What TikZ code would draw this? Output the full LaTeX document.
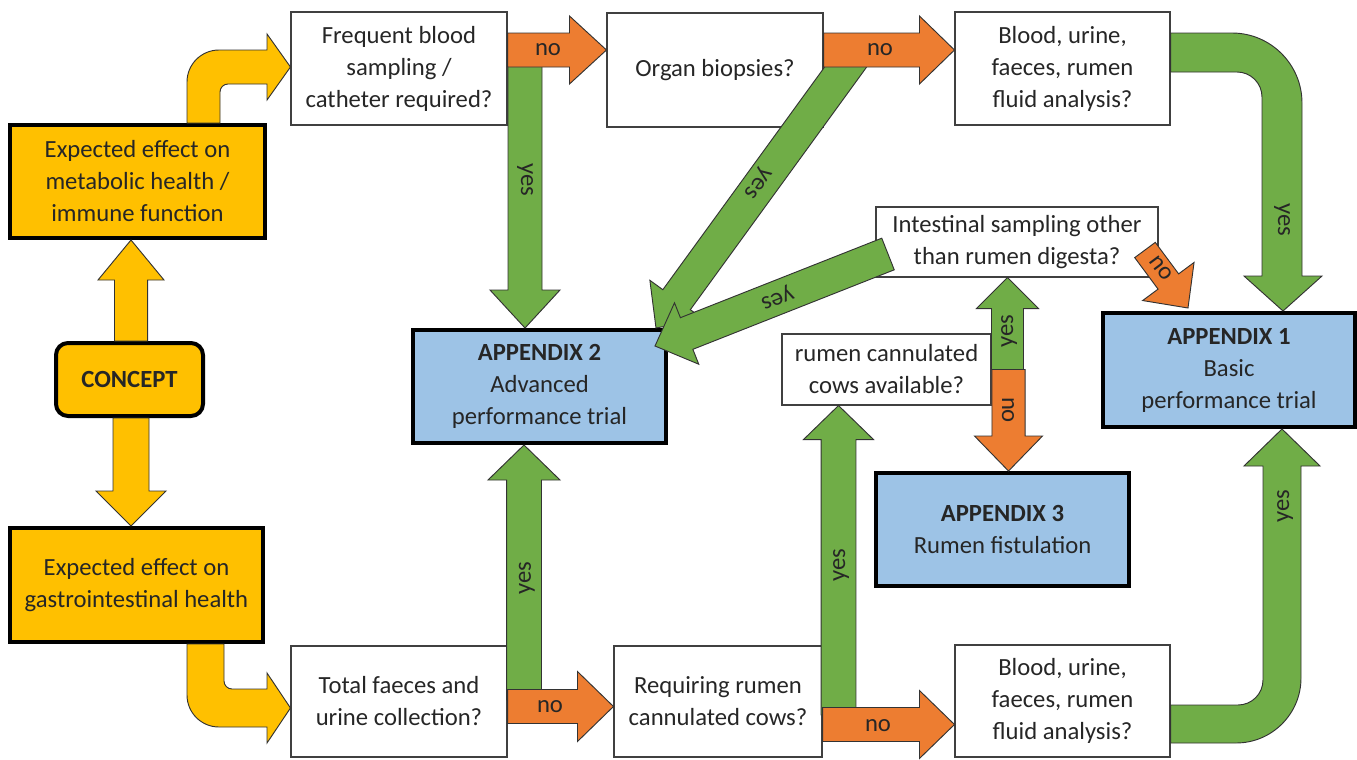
\documentclass[tikz,border=0pt]{standalone}
\usepackage{fontspec}
\setmainfont{Carlito}
\usetikzlibrary{calc}
\definecolor{cyel}{HTML}{FFC000}
\definecolor{cora}{HTML}{ED7D31}
\definecolor{cgre}{HTML}{70AD47}
\definecolor{cblu}{HTML}{9DC3E6}
\definecolor{ctxt}{HTML}{262626}
% #1 style, #2 tail, #3 tip, #4 shaft half width, #5 head half width, #6 head length
\newcommand\blockarrow[6]{%
  \coordinate (hb) at ($(#3)!#6!(#2)$);
  \filldraw[#1] ($(#2)!#4!90:(#3)$) -- ($(hb)!#4!-90:(#2)$) -- ($(hb)!#5!-90:(#2)$) -- (#3)
    -- ($(hb)!#5!90:(#2)$) -- ($(hb)!#4!90:(#2)$) -- ($(#2)!#4!-90:(#3)$) -- cycle;
}
\begin{document}
\begin{tikzpicture}[x=0.75pt,y=-0.75pt,
  every node/.style={font=\fontsize{18.5}{24}\selectfont, text=ctxt, align=center, inner sep=0pt},
  qbox/.style={draw=black!75, line width=0.8pt, fill=white},
  ybox/.style={draw=black, line width=3pt, fill=cyel},
  abox/.style={draw=black, line width=3pt, fill=cblu},
  ya/.style={fill=cyel, draw=black!80, line width=0.7pt},
  oa/.style={fill=cora, draw=black!80, line width=0.7pt},
  ga/.style={fill=cgre, draw=black!80, line width=0.7pt},
  lab/.style={font=\fontsize{18.5}{24}\selectfont}]
\useasboundingbox (0,0) rectangle (1357,760);
\fill[white] (0,0) rectangle (1357,760);

% ---- nodes
\node[ybox, minimum width=191.25pt, minimum height=84.75pt] (meta) at (137.5,181.5) {Expected effect on\\metabolic health /\\immune function};
\node[ybox, rounded corners=9pt, minimum width=110.25pt, minimum height=54.75pt] (concept) at (129.5,379.5) {\textbf{CONCEPT}};
\node[ybox, minimum width=189.75pt, minimum height=85.5pt] (gastro) at (136.5,585) {Expected effect on\\gastrointestinal health};
\node[qbox, minimum width=162pt, minimum height=84.75pt] (freq) at (399,68.5) {Frequent blood\\sampling /\\catheter required?};
\node[qbox, minimum width=162pt, minimum height=85.5pt] (organ) at (715,70) {Organ biopsies?};
\node[qbox, minimum width=161.25pt, minimum height=84.75pt] (bloodtop) at (1062.5,68.5) {Blood, urine,\\faeces, rumen\\fluid analysis?};
\node[qbox, minimum width=211.5pt, minimum height=52.5pt] (intest) at (1017,242) {Intestinal sampling other\\than rumen digesta?};
\node[abox, minimum width=189.75pt, minimum height=84.75pt] (app2) at (539.5,386.5) {\textbf{APPENDIX 2}\\Advanced\\performance trial};
\node[qbox, minimum width=156.75pt, minimum height=53.25pt] (rumenav) at (886.5,369.5) {rumen cannulated\\cows available?};
\node[abox, minimum width=189pt, minimum height=85.5pt] (app1) at (1229,370) {\textbf{APPENDIX 1}\\Basic\\performance trial};
\node[abox, minimum width=189.75pt, minimum height=84.75pt] (app3) at (1002.5,529.5) {\textbf{APPENDIX 3}\\Rumen fistulation};
\node[qbox, minimum width=162pt, minimum height=83.25pt] (total) at (399,701.5) {Total faeces and\\urine collection?};
\node[qbox, minimum width=156pt, minimum height=83.25pt] (requir) at (718,701.5) {Requiring rumen\\cannulated cows?};
\node[qbox, minimum width=161.25pt, minimum height=84pt] (bloodbot) at (1062.5,701) {Blood, urine,\\faeces, rumen\\fluid analysis?};

% ---- yellow arrows
\coordinate (y1t) at (131,0 |- concept.north);
\coordinate (y1h) at (131,0 |- meta.south);
\blockarrow{ya}{y1t}{y1h}{12.4pt}{24.75pt}{30pt}
\coordinate (y2t) at (131,0 |- concept.south);
\coordinate (y2h) at (131,0 |- gastro.north);
\blockarrow{ya}{y2t}{y2h}{13.5pt}{26.25pt}{26.25pt}
\filldraw[ya] (187,0 |- meta.north) -- (187,82) .. controls (187,64.3) and (201.3,50) .. (219,50)
  -- (267,50) -- (267,34) -- (freq.west |- 0,67) -- (267,100) -- (267,84) -- (228,84)
  .. controls (223.6,84) and (220,87.6) .. (220,92) -- (220,0 |- meta.north) -- cycle;
\filldraw[ya] (187,0 |- gastro.south) -- (187,695) .. controls (187,712.7) and (201.3,727) .. (219,727)
  -- (267,727) -- (267,743) -- (total.west |- 0,708) -- (267,673) -- (267,689) -- (232,689)
  .. controls (227.6,689) and (224,685.4) .. (224,681) -- (224,0 |- gastro.south) -- cycle;

% ---- green arrows (drawn under the orange ones)
\coordinate (g1t) at (525,55);
\coordinate (g1h) at (525,0 |- app2.north);
\blockarrow{ga}{g1t}{g1h}{12.75pt}{26.25pt}{28.5pt}
\coordinate (g2t) at (858,50);
\coordinate (g2h) at (656,328);
\blockarrow{ga}{g2t}{g2h}{12.75pt}{24.75pt}{26.25pt}
\coordinate (g5t) at (524,700);
\coordinate (g5h) at (524,0 |- app2.south);
\blockarrow{ga}{g5t}{g5h}{13.1pt}{27pt}{26.25pt}
\coordinate (g6t) at (838.5,715);
\coordinate (g6h) at (838.5,0 |- rumenav.south);
\blockarrow{ga}{g6t}{g6h}{13.1pt}{26.25pt}{25.5pt}
\coordinate (g3t) at (888,254);
\coordinate (g3h) at (655,346);
\blockarrow{ga}{g3t}{g3h}{12.75pt}{24.75pt}{25.5pt}
\coordinate (g4t) at (1007.5,0 |- rumenav.east);
\coordinate (g4h) at (1007.5,0 |- intest.south);
\blockarrow{ga}{g4t}{g4h}{12pt}{23.25pt}{23.25pt}
\filldraw[ga] (bloodtop.east |- 0,33) -- (1232,33) .. controls (1270.6,33) and (1302,64.4) .. (1302,103)
  -- (1302,276) -- (1322,276) -- (1283,0 |- app1.north) -- (1244,276) -- (1262,276) -- (1262,97)
  .. controls (1262,83.2) and (1250.8,72) .. (1237,72) -- (bloodtop.east |- 0,72) -- cycle;
\filldraw[ga] (bloodbot.east |- 0,743) -- (1236,743) .. controls (1271.9,743) and (1301,713.9) .. (1301,678)
  -- (1301,466) -- (1320,466) -- (1282,0 |- app1.south) -- (1244,466) -- (1263,466) -- (1263,680)
  .. controls (1263,693.8) and (1251.8,705) .. (1238,705) -- (bloodbot.east |- 0,705) -- cycle;

% ---- orange arrows
\coordinate (o1t) at (freq.east |- 0,50);
\coordinate (o1h) at (organ.west |- 0,50);
\blockarrow{oa}{o1t}{o1h}{12.75pt}{25.5pt}{27.75pt}
\coordinate (o2t) at (organ.east |- 0,50);
\coordinate (o2h) at (bloodtop.west |- 0,50);
\blockarrow{oa}{o2t}{o2h}{12.75pt}{25.5pt}{26.25pt}
\coordinate (o3t) at (total.east |- 0,706.5);
\coordinate (o3h) at (requir.west |- 0,706.5);
\blockarrow{oa}{o3t}{o3h}{12.75pt}{26.25pt}{27pt}
\coordinate (o4t) at (requir.east |- 0,724.5);
\coordinate (o4h) at (bloodbot.west |- 0,724.5);
\blockarrow{oa}{o4t}{o4h}{12.75pt}{25.5pt}{26.25pt}
\coordinate (o5t) at (1008.5,0 |- rumenav.east);
\coordinate (o5h) at (1008.5,0 |- app3.north);
\blockarrow{oa}{o5t}{o5h}{12.4pt}{25.5pt}{26.25pt}
\coordinate (o6t) at (1145,250);
\coordinate (o6h) at (1188,308);
\blockarrow{oa}{o6t}{o6h}{9.6pt}{24pt}{24.75pt}

% ---- labels
\node[lab] (n1) at (548,50) {no};
\node[lab] (n2) at (880,50) {no};
\node[lab] (n3) at (550,707) {no};
\node[lab] (n4) at (878,726) {no};
\node[lab, rotate=-90] (n5) at (1008,410) {no};
\node[lab, rotate=-53.5] (n6) at (1161,268) {no};
\node[lab, rotate=-90] (y1) at (525,180) {yes};
\node[lab, rotate=233.9] (y2) at (757,182) {yes};
\node[lab, rotate=201.5] (y3) at (777,297) {yes};
\node[lab, rotate=90] (y4) at (1009,331) {yes};
\node[lab, rotate=-90] (y5) at (1282,220) {yes};
\node[lab, rotate=90] (y6) at (527,578) {yes};
\node[lab, rotate=90] (y7) at (841,565) {yes};
\node[lab, rotate=90] (y8) at (1285,506) {yes};
\end{tikzpicture}
\end{document}
